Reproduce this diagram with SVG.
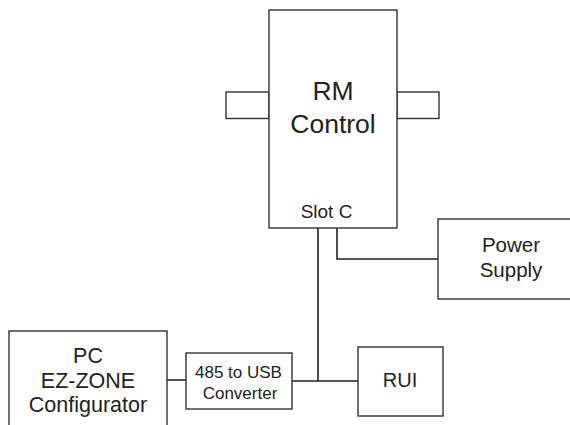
<svg xmlns="http://www.w3.org/2000/svg" width="570" height="425" viewBox="0 0 570 425">
  <style>
    .box { fill: #ffffff; stroke: #333333; stroke-width: 1.4; }
    .wire { fill: none; stroke: #222222; stroke-width: 1.6; }
    text { font-family: "Liberation Sans", Arial, sans-serif; fill: #222222; text-anchor: middle; }
  </style>
  <rect width="570" height="425" fill="#ffffff"/>

  <g id="connectors">
    <polyline class="wire" points="318,228 318,381"/>
    <polyline class="wire" points="337,228 337,259 438,259"/>
    <polyline class="wire" points="167,380 186,380"/>
    <polyline class="wire" points="292,381 358,381"/>
  </g>

  <g id="rm-control">
    <rect class="box" x="226" y="92" width="43" height="26.5"/>
    <rect class="box" x="397" y="92" width="42" height="26.5"/>
    <rect class="box" x="269" y="10" width="128" height="218"/>
    <text x="333" y="100" font-size="26.5">RM</text>
    <text x="333" y="133" font-size="26.5">Control</text>
    <text x="326.5" y="218" font-size="19">Slot C</text>
  </g>

  <g id="power-supply">
    <rect class="box" x="438" y="219" width="140" height="80"/>
    <text x="511" y="252" font-size="20.5">Power</text>
    <text x="511" y="277" font-size="20.5">Supply</text>
  </g>

  <g id="pc">
    <rect class="box" x="9" y="331" width="158" height="110"/>
    <text x="88" y="363" font-size="21.5">PC</text>
    <text x="88" y="388" font-size="21.5">EZ-ZONE</text>
    <text x="88" y="412" font-size="21.5">Configurator</text>
  </g>

  <g id="converter">
    <rect class="box" x="186" y="353" width="106" height="56"/>
    <text x="238.5" y="378" font-size="17">485 to USB</text>
    <text x="240" y="399" font-size="17">Converter</text>
  </g>

  <g id="rui">
    <rect class="box" x="358" y="347" width="85" height="69"/>
    <text x="400" y="387" font-size="20">RUI</text>
  </g>
</svg>
